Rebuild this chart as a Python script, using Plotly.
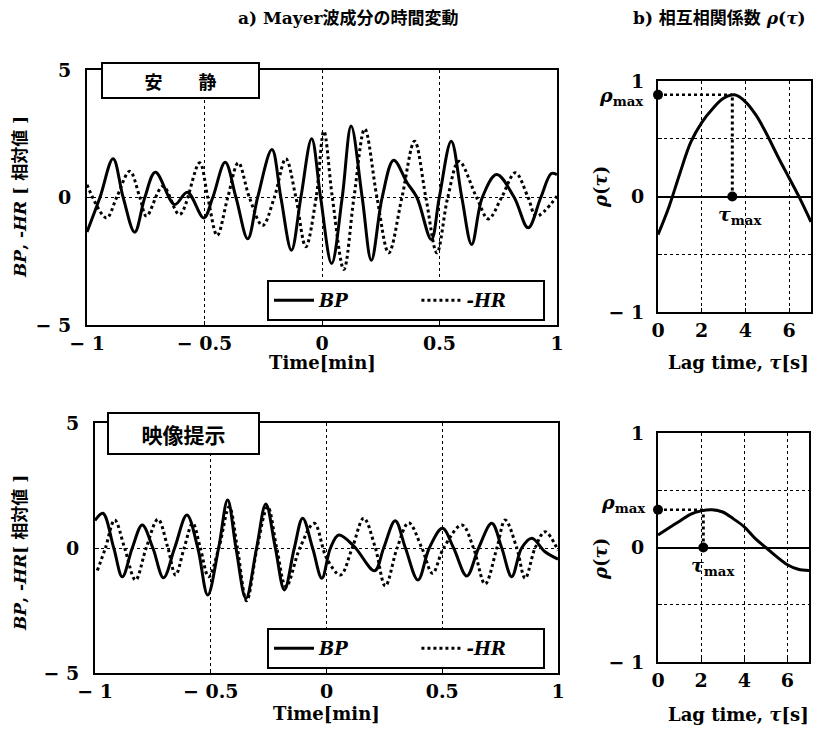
import plotly.graph_objects as go

# ---------------- data ----------------
# a) top panel: 安静 (rest)
rest_bp_t = [-1.0, -0.945, -0.889, -0.846, -0.797, -0.754, -0.709, -0.627, -0.573, -0.503,
             -0.465, -0.412, -0.366, -0.316, -0.274, -0.213, -0.175, -0.13, -0.09, -0.044,
             -0.006, 0.041, 0.086, 0.124, 0.171, 0.21, 0.256, 0.305, 0.362, 0.404,
             0.465, 0.499, 0.55, 0.595, 0.637, 0.682, 0.743, 0.818, 0.877, 0.931, 0.976, 1.0]
rest_bp_v = [-1.35, 0.0, 1.52, 0.0, -1.36, 0.0, 0.99, -0.27, 0.21, -0.8,
             0.0, 1.38, 0.0, -1.62, 0.0, 1.88, 0.0, -2.07, 0.0, 2.3,
             0.0, -2.59, 0.0, 2.8, 0.0, -2.46, 0.0, 1.46, 0.58, 0.0,
             -1.65, 0.0, 2.21, 0.0, -1.84, 0.0, 0.9, 0.0, -1.19, 0.0, 0.94, 0.9]
rest_hr_t = [-1.0, -0.917, -0.874, -0.818, -0.775, -0.747, -0.677, -0.606, -0.521, -0.486,
             -0.446, -0.401, -0.356, -0.309, -0.253, -0.203, -0.154, -0.111, -0.069, -0.025,
             0.008, 0.044, 0.093, 0.136, 0.182, 0.234, 0.284, 0.34, 0.394, 0.442,
             0.489, 0.535, 0.583, 0.658, 0.708, 0.764, 0.823, 0.877, 0.912, 1.0]
rest_hr_v = [0.5, -0.8, 0.0, 1.03, 0.0, -0.73, 0.44, -0.67, 1.36, 0.0,
             -1.49, 0.0, 1.36, 0.0, -1.1, 0.0, 1.52, 0.0, -1.93, 0.0,
             2.6, 0.0, -2.82, 0.0, 2.69, 0.0, -2.17, 0.0, 2.21, 0.0,
             -2.17, 0.0, 1.42, 0.0, -0.84, 0.0, 0.97, 0.0, -0.73, 0.05]

# a) bottom panel: 映像提示 (video presentation)
video_bp_t = [-1.0, -0.966, -0.919, -0.882, -0.839, -0.796, -0.75, -0.704, -0.656, -0.603,
              -0.556, -0.513, -0.466, -0.427, -0.391, -0.348, -0.302, -0.262, -0.221, -0.182,
              -0.139, -0.103, -0.06, -0.02, 0.017, 0.053, 0.118, 0.208, 0.247, 0.297,
              0.341, 0.395, 0.444, 0.501, 0.549, 0.606, 0.657, 0.714, 0.757, 0.8,
              0.843, 0.887, 0.944, 1.0]
video_bp_v = [1.1, 1.39, 0.0, -1.15, 0.0, 0.92, 0.0, -1.19, 0.0, 1.32,
              0.0, -1.88, 0.0, 1.92, 0.0, -2.01, 0.0, 1.76, 0.0, -1.68,
              0.0, 1.19, 0.0, -1.21, 0.0, 0.52, 0.08, -0.91, 0.0, 1.09,
              0.0, -1.28, 0.0, 0.79, 0.0, -1.12, 0.0, 0.99, 0.0, -1.15,
              0.0, 0.39, -0.15, -0.45]
video_hr_t = [-0.99, -0.955, -0.915, -0.872, -0.825, -0.779, -0.728, -0.685, -0.652, -0.615,
              -0.578, -0.545, -0.509, -0.465, -0.42, -0.385, -0.345, -0.3, -0.254, -0.215,
              -0.175, -0.115, -0.053, 0.0, 0.06, 0.111, 0.161, 0.211, 0.254, 0.305,
              0.355, 0.412, 0.458, 0.506, 0.585, 0.635, 0.685, 0.736, 0.772, 0.822,
              0.858, 0.901, 0.944, 1.0]
video_hr_v = [-0.9, 0.0, 1.12, 0.0, -1.28, 0.0, 1.15, 0.0, -1.08, 0.0,
              0.99, 0.0, -1.15, 0.0, 1.65, 0.0, -2.11, 0.0, 1.65, 0.0,
              -1.55, 0.0, 0.99, -0.4, -1.08, 0.0, 1.19, 0.0, -1.52, 0.0,
              1.01, 0.0, -1.01, 0.0, 0.92, 0.0, -1.44, 0.0, 1.12, 0.0,
              -1.21, 0.0, 0.65, -0.1]

# b) cross-correlation
lag_tau = [0, 0.5, 1, 1.5, 2, 2.5, 3, 3.5, 4, 4.5, 5, 5.5, 6, 6.5, 7]
rho_rest = [-0.33, -0.09, 0.2, 0.47, 0.64, 0.76, 0.85, 0.88, 0.82, 0.7, 0.53, 0.34, 0.16, -0.02, -0.22]
rho_video = [0.11, 0.17, 0.23, 0.29, 0.32, 0.33, 0.31, 0.25, 0.18, 0.08, 0.0, -0.08, -0.15, -0.19, -0.2]
rest_tau_max, rest_rho_max = 3.4, 0.88
video_tau_max, video_rho_max = 2.1, 0.33

time_ticks = [-1, -0.5, 0, 0.5, 1]
time_ticktext = ["− 1", "− 0.5", "0", "0.5", "1"]
val_ticks = [-5, 0, 5]
val_ticktext = ["− 5", "0", "5"]
lag_ticks = [0, 2, 4, 6]
rho_ticks = [-1, -0.5, 0, 0.5, 1]
rho_ticktext = ["− 1", "", "0", "", "1"]

# ---------------- figure ----------------
W, H = 832, 731
SERIF = "DejaVu Serif, Noto Sans CJK JP"
JP = "Noto Sans CJK JP"
NB = "\u00a0"

def px(x):
    return x / W

def py(y):
    return 1 - y / H

fig = go.Figure()

# left panels
fig.add_trace(go.Scatter(x=rest_bp_t, y=rest_bp_v, name="BP" + NB * 10, mode="lines", line_shape="spline",
                         line=dict(color="black", width=3), xaxis="x", yaxis="y", legend="legend"))
fig.add_trace(go.Scatter(x=rest_hr_t, y=rest_hr_v, name="-HR" + NB * 5, mode="lines", line_shape="spline",
                         line=dict(color="black", width=3, dash="dot"), xaxis="x", yaxis="y", legend="legend"))
fig.add_trace(go.Scatter(x=video_bp_t, y=video_bp_v, name="BP" + NB * 10, mode="lines", line_shape="spline",
                         line=dict(color="black", width=3), xaxis="x2", yaxis="y2", legend="legend2"))
fig.add_trace(go.Scatter(x=video_hr_t, y=video_hr_v, name="-HR" + NB * 5, mode="lines", line_shape="spline",
                         line=dict(color="black", width=3, dash="dot"), xaxis="x2", yaxis="y2", legend="legend2"))

# right panels
for (rho, tmax, rmax, xa, ya) in [(rho_rest, rest_tau_max, rest_rho_max, "x3", "y3"),
                                  (rho_video, video_tau_max, video_rho_max, "x4", "y4")]:
    fig.add_trace(go.Scatter(x=lag_tau, y=rho, mode="lines", line_shape="spline",
                             line=dict(color="black", width=3), xaxis=xa, yaxis=ya, showlegend=False))
    fig.add_trace(go.Scatter(x=[0, tmax], y=[rmax, rmax], mode="lines",
                             line=dict(color="black", width=2.5, dash="dot"), xaxis=xa, yaxis=ya, showlegend=False))
    fig.add_trace(go.Scatter(x=[tmax, tmax], y=[0, rmax], mode="lines",
                             line=dict(color="black", width=3, dash="dot"), xaxis=xa, yaxis=ya, showlegend=False))
    fig.add_trace(go.Scatter(x=[0, tmax], y=[rmax, 0], mode="markers",
                             marker=dict(color="black", size=10), xaxis=xa, yaxis=ya, showlegend=False,
                             cliponaxis=False))

tickfont = dict(family=SERIF, size=19, color="black", weight="bold")
frame = dict(showline=True, linecolor="black", linewidth=2, mirror=True, zeroline=False,
             showgrid=True, gridcolor="black", gridwidth=1, griddash="dot", automargin=False,
             ticks="inside", ticklen=4, tickcolor="black", tickfont=tickfont, fixedrange=True)

legend_common = dict(orientation="h", xanchor="left", yanchor="top", bordercolor="black", borderwidth=2,
                     bgcolor="white", font=dict(family=SERIF, size=18, style="italic", weight="bold", color="black"),
                     itemwidth=40, traceorder="normal", itemclick=False, itemdoubleclick=False)

fig.update_layout(
    width=W, height=H, margin=dict(l=0, r=0, t=0, b=0, autoexpand=False),
    paper_bgcolor="white", plot_bgcolor="white",
    xaxis=dict(domain=[px(87), px(557)], range=[-1, 1], tickvals=time_ticks, ticktext=time_ticktext,
               anchor="y", **frame),
    yaxis=dict(domain=[py(325), py(70)], range=[-5, 5], tickvals=val_ticks, ticktext=val_ticktext,
               anchor="x", ticklabelstandoff=10, **frame),
    xaxis2=dict(domain=[px(95), px(558)], range=[-1, 1], tickvals=time_ticks, ticktext=time_ticktext,
                anchor="y2", **frame),
    yaxis2=dict(domain=[py(673), py(423)], range=[-5, 5], tickvals=val_ticks, ticktext=val_ticktext,
                anchor="x2", ticklabelstandoff=10, **frame),
    xaxis3=dict(domain=[px(658), px(811)], range=[0, 7], tickvals=lag_ticks, anchor="y3", **frame),
    yaxis3=dict(domain=[py(312), py(81)], range=[-1, 1], tickvals=rho_ticks, ticktext=rho_ticktext,
                anchor="x3", ticklabelstandoff=8, **frame),
    xaxis4=dict(domain=[px(658), px(809)], range=[0, 7], tickvals=lag_ticks, anchor="y4", **frame),
    yaxis4=dict(domain=[py(662), py(433)], range=[-1, 1], tickvals=rho_ticks, ticktext=rho_ticktext,
                anchor="x4", ticklabelstandoff=8, **frame),
    legend=dict(x=px(267), y=py(280), **legend_common),
    legend2=dict(x=px(267), y=py(628), **legend_common),
)

# solid zero lines for the correlation panels
for ya in ["yaxis3", "yaxis4"]:
    fig.layout[ya].update(zeroline=True, zerolinecolor="black", zerolinewidth=2)

def ann(text, x, y, size=18, angle=0, family=SERIF, weight="bold", **kw):
    kw.setdefault("xanchor", "center")
    kw.setdefault("yanchor", "middle")
    fig.add_annotation(text=text, x=x, y=y, xref=kw.pop("xref", "paper"), yref=kw.pop("yref", "paper"),
                       showarrow=False, textangle=angle,
                       font=dict(family=family, size=size, color="black", weight=weight), **kw)

# titles
ann("a) Mayer波成分の時間変動", px(348), py(18), size=17)
ann("b) 相互相関係数 <i>ρ</i>(<i>τ</i>)", px(719), py(18), size=17)

# axis titles
ann("<i>BP</i>, -<i>HR</i> [ 相対値 ]", px(20), py(197), angle=-90, size=17)
ann("<i>BP</i>, -<i>HR</i>[ 相対値 ]", px(20), py(553), angle=-90, size=17)
ann("Time[min]", px(322), py(362), size=18)
ann("Time[min]", px(326), py(713), size=18)
ann("<i>ρ</i>(<i>τ</i>)", px(600), py(187), angle=-90, size=18)
ann("<i>ρ</i>(<i>τ</i>)", px(600), py(559), angle=-90, size=18)
ann("Lag time, <i>τ</i>[s]", px(738), py(362), size=18)
ann("Lag time, <i>τ</i>[s]", px(738), py(714), size=18)

# condition boxes
ann("安　　静", px(180.5), py(80.5), size=18, family=JP, weight="bold",
    bordercolor="black", borderwidth=2, borderpad=0, bgcolor="white", width=155, height=33)
ann("映像提示", px(183.5), py(433.5), size=21, family=JP, weight="bold",
    bordercolor="black", borderwidth=2, borderpad=0, bgcolor="white", width=149, height=39)

# rho_max / tau_max labels
ann("<i>ρ</i><sub>max</sub>", px(646), rest_rho_max, yref="y3", xanchor="right", yshift=-2, size=19)
ann("<i>τ</i><sub>max</sub>", rest_tau_max, 0, xref="x3", yref="y3", yanchor="top", yshift=-4, xshift=8, size=19)
ann("<i>ρ</i><sub>max</sub>", px(648), video_rho_max, yref="y4", xanchor="right", yshift=6, size=19)
ann("<i>τ</i><sub>max</sub>", video_tau_max, 0, xref="x4", yref="y4", yanchor="top", yshift=-4, xshift=10, size=19)

fig.write_html("out.html")
